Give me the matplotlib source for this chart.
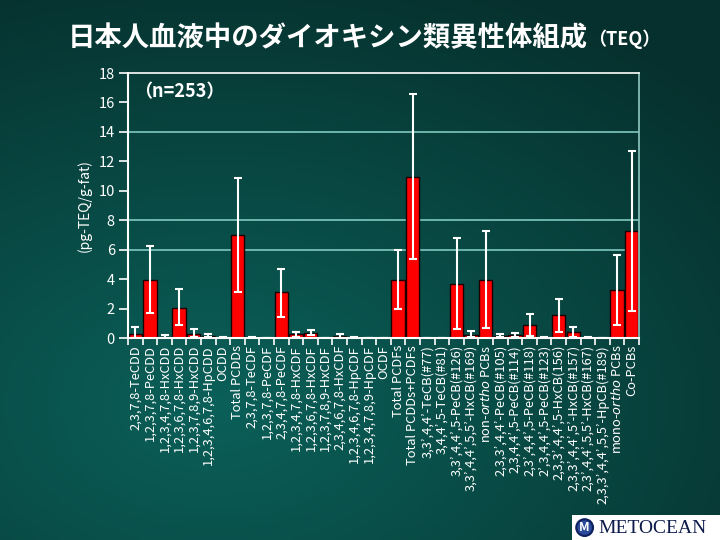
import numpy as np
import matplotlib
matplotlib.use("Agg")
import matplotlib.pyplot as plt
from matplotlib.patches import Rectangle

plt.rcParams['font.family'] = ['Noto Sans CJK JP', 'DejaVu Sans']

# categories (x axis)
labels = [
    "2,3,7,8-TeCDD", "1,2,3,7,8-PeCDD", "1,2,3,4,7,8-HxCDD", "1,2,3,6,7,8-HxCDD",
    "1,2,3,7,8,9-HxCDD", "1,2,3,4,6,7,8-HpCDD", "OCDD", "Total PCDDs",
    "2,3,7,8-TeCDF", "1,2,3,7,8-PeCDF", "2,3,4,7,8-PeCDF", "1,2,3,4,7,8-HxCDF",
    "1,2,3,6,7,8-HxCDF", "1,2,3,7,8,9-HxCDF", "2,3,4,6,7,8-HxCDF",
    "1,2,3,4,6,7,8-HpCDF", "1,2,3,4,7,8,9-HpCDF", "OCDF", "Total PCDFs",
    "Total PCDDs+PCDFs", "3,3’,4,4’-TeCB(#77)", "3,4,4’,5-TeCB(#81)",
    "3,3’,4,4’,5-PeCB(#126)", "3,3’,4,4’,5,5’-HxCB(#169)", "non-$\\it{ortho}$ PCBs",
    "2,3,3’,4,4’-PeCB(#105)", "2,3,4,4’,5-PeCB(#114)", "2,3’,4,4’,5-PeCB(#118)",
    "2’,3,4,4’,5-PeCB(#123)", "2,3,3’,4,4’,5-HxCB(156)", "2,3,3’,4,4’,5’-HxCB(#157)",
    "2,3’,4,4’,5,5’-HxCB(#167)", "2,3,3’,4,4’,5,5’-HpCB(#189)", "mono-$\\it{ortho}$ PCBs",
    "Co-PCBs",
]

# mean TEQ (pg-TEQ/g-fat)
means = [0.25, 3.95, 0.10, 2.05, 0.28, 0.13, 0.03, 7.00, 0.04, 0.00, 3.10, 0.28,
         0.36, 0.00, 0.12, 0.04, 0.00, 0.00, 3.95, 10.95, 0.00, 0.00, 3.65, 0.22,
         3.95, 0.14, 0.18, 0.86, 0.03, 1.55, 0.40, 0.03, 0.02, 3.25, 7.25]
# error bar ends
err_hi = [0.78, 6.28, 0.22, 3.30, 0.60, 0.25, 0.05, 10.90, 0.06, 0.00, 4.67, 0.43,
          0.55, 0.00, 0.25, 0.06, 0.00, 0.00, 5.95, 16.60, 0.00, 0.00, 6.78, 0.50,
          7.25, 0.25, 0.36, 1.60, 0.05, 2.67, 0.77, 0.05, 0.03, 5.67, 12.70]
err_lo = [0.00, 1.70, 0.00, 0.87, 0.05, 0.05, 0.02, 3.10, 0.02, 0.00, 1.45, 0.10,
          0.20, 0.00, 0.02, 0.02, 0.00, 0.00, 2.00, 5.37, 0.00, 0.00, 0.60, 0.05,
          0.66, 0.05, 0.05, 0.14, 0.02, 0.43, 0.10, 0.02, 0.01, 0.86, 1.86]

yticks = [0, 2, 4, 6, 8, 10, 12, 14, 16, 18]
gridvals = [6, 8, 14]

fig = plt.figure(figsize=(7.2, 5.4), dpi=100)

# background gradient
bg = fig.add_axes([0, 0, 1, 1])
bg.set_axis_off()
gx, gy = np.meshgrid(np.linspace(0, 1, 200), np.linspace(0, 1, 150))
d = np.sqrt(((gx - 0.3) / 1.0) ** 2 + ((gy - 0.75) / 0.9) ** 2)
f = np.clip(1 - d / 0.95, 0, 1)
dark = np.array([0x06, 0x30, 0x2d]) / 255
light = np.array([0x0b, 0x60, 0x59]) / 255
img = dark[None, None, :] * (1 - f[..., None]) + light[None, None, :] * f[..., None]
bg.imshow(img, aspect='auto', extent=[0, 1, 0, 1], origin='upper')
bg.set_xlim(0, 1)
bg.set_ylim(0, 1)

ax = fig.add_axes([0.1778, 0.374, 0.7097, 0.4908])
ax.patch.set_alpha(0)

x = np.arange(len(labels))
m = np.array(means)
yerr = np.array([m - np.array(err_lo), np.array(err_hi) - m])

for g in gridvals:
    ax.axhline(g, color='#7fc8c0', lw=1.2, zorder=1)

ax.bar(x, m, width=0.92, color='#ff0000', edgecolor='#1a0000', linewidth=1, zorder=2)
ax.errorbar(x, m, yerr=yerr, fmt='none', ecolor='white', elinewidth=1.5,
            capsize=3.2, capthick=1.5, zorder=3)

ax.set_xlim(-0.5, len(labels) - 0.5)
ax.set_ylim(0, 18)
ax.set_yticks(yticks)
ax.tick_params(axis='y', colors='white', direction='out', length=6.5, width=1.2,
               labelsize=10.5, pad=3)
ax.set_xticks(x)
ax.set_xticklabels(labels, rotation=90, fontsize=9.3, color='white', va='top')
ax.set_xticks(np.arange(len(labels) + 1) - 0.5, minor=True)
ax.tick_params(axis='x', which='major', length=0, pad=5)
ax.tick_params(axis='x', which='minor', colors='white', direction='out', length=5, width=1.2)

for s in ['left', 'bottom', 'top']:
    ax.spines[s].set_color('white')
ax.spines['left'].set_linewidth(1.5)
ax.spines['bottom'].set_linewidth(1.5)
ax.spines['top'].set_linewidth(1.2)
ax.spines['right'].set_color('#8fc8c0')
ax.spines['right'].set_linewidth(1.2)

ax.set_ylabel("(pg-TEQ/g-fat)", color='white', fontsize=10, labelpad=5)

ax.text(0.012, 0.928, "（n=253）", transform=ax.transAxes, color='white',
        fontsize=13, fontweight='bold', va='center', ha='left')

t1 = fig.text(0.094, 0.93, "日本人血液中のダイオキシン類異性体組成", color='white',
              fontsize=19.7, fontweight='bold', va='center', ha='left')
ax.annotate("（TEQ）", xy=(1.0, 0.45), xycoords=t1, va='center', ha='left',
            color='white', fontsize=13, fontweight='bold')

# logo box
fig.patches.append(Rectangle((0.794, 0.0), 0.206, 0.046, transform=fig.transFigure,
                             facecolor='white', edgecolor='none', zorder=5))
fig.text(0.812, 0.023, "M", color='white', fontsize=9, fontweight='bold',
         ha='center', va='center', zorder=6,
         bbox=dict(boxstyle='circle,pad=0.15', facecolor='#2a4a9a',
                   edgecolor='#0d1f5c', linewidth=1.5))
fig.text(0.906, 0.021, "METOCEAN", family='Liberation Serif', color='#0d1a4a',
         fontsize=14, ha='center', va='center', zorder=6)

fig.savefig("out.png", dpi=100)
